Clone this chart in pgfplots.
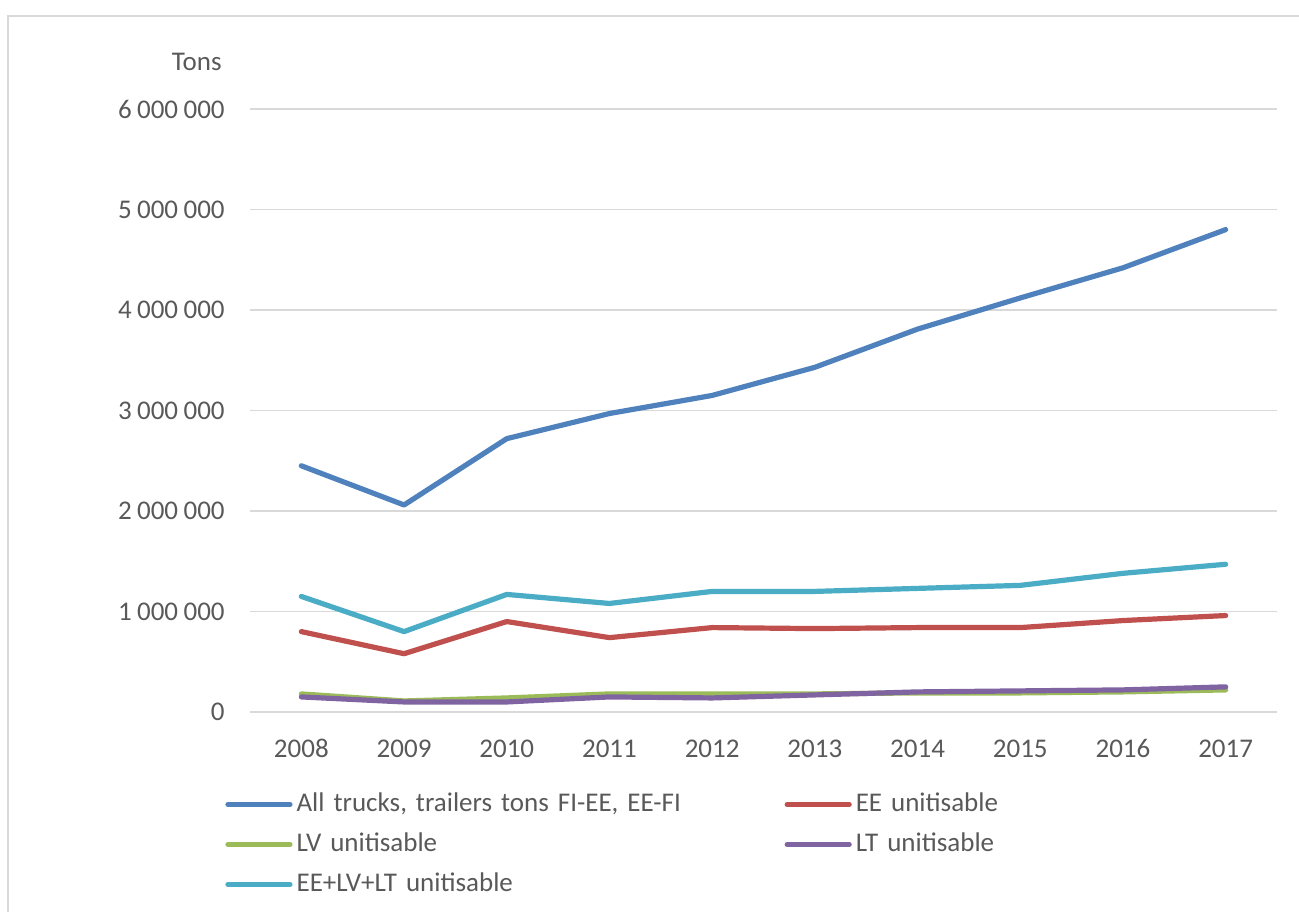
\documentclass[border=0pt]{standalone}
\usepackage{pgfplots}
\pgfplotsset{compat=1.18}
\usepackage{fontspec}
\setmainfont{Carlito}
\definecolor{txt}{HTML}{595959}
\definecolor{gridc}{HTML}{D9D9D9}
\definecolor{frame}{HTML}{D9D9D9}
\definecolor{cblue}{HTML}{4F81BD}
\definecolor{cred}{HTML}{C0504D}
\definecolor{cgreen}{HTML}{9BBB59}
\definecolor{cpurple}{HTML}{8064A2}
\definecolor{ccyan}{HTML}{4BACC6}
\begin{document}
\fontsize{13.5}{16}\selectfont
\begin{tikzpicture}
\useasboundingbox (0,0) rectangle (649.5pt,455.5pt);
\draw[color=frame, line width=1pt] (4pt,-20pt) -- (4pt,447.5pt) -- (680pt,447.5pt);
\node[anchor=east, inner sep=0pt, text=txt, font=\fontsize{13.5}{16}\selectfont] at (111pt,424.5pt) {Tons};
\begin{axis}[
  at={(125pt,99.5pt)}, anchor=south west,
  scale only axis, width=513.5pt, height=301.5pt,
  xmin=-0.5, xmax=9.5, ymin=0, ymax=6000000,
  axis line style={draw=none},
  major tick length=0pt,
  xtick={0,1,2,3,4,5,6,7,8,9},
  xticklabels={2008,2009,2010,2011,2012,2013,2014,2015,2016,2017},
  ytick={0,1000000,2000000,3000000,4000000,5000000,6000000},
  scaled y ticks=false,
  ymajorgrids=true,
  grid style={color=gridc, line width=0.75pt},
  yticklabel style={/pgf/number format/fixed, /pgf/number format/precision=0,
    /pgf/number format/1000 sep={\hspace{0.2em}}, /pgf/number format/assume math mode=true,
    anchor=east, inner sep=0pt, xshift=-12.5pt},
  xticklabel style={anchor=north, inner sep=0pt, yshift=-14pt, text height=8.6pt, text depth=0pt},
  ticklabel style={text=txt, font=\fontsize{13.5}{16}\selectfont},
  legend columns=2,
  legend cell align=left,
  legend style={at={(-0.0302,-0.1128)}, anchor=north west, draw=none, fill=none,
    column sep=2pt, row sep=0pt,
    nodes={inner sep=0pt, text width=242pt, minimum height=20pt, text=txt, font=\fontsize{13.5}{16}\selectfont}},
  legend image code/.code={\draw[#1, line width=2.6pt, line cap=round] (0pt,0pt) -- (31pt,0pt);},
  every axis plot/.append style={line width=2.6pt, line cap=round, line join=round, mark=none},
]
\addplot[cblue] coordinates {(0,2450000) (1,2060000) (2,2720000) (3,2970000) (4,3150000) (5,3430000) (6,3810000) (7,4120000) (8,4420000) (9,4800000)};
\addlegendentry{All trucks, trailers tons FI-EE, EE-FI}
\addplot[cred] coordinates {(0,800000) (1,580000) (2,900000) (3,740000) (4,840000) (5,830000) (6,840000) (7,840000) (8,910000) (9,960000)};
\addlegendentry{EE unitisable}
\addplot[cgreen] coordinates {(0,180000) (1,110000) (2,140000) (3,180000) (4,180000) (5,180000) (6,190000) (7,190000) (8,200000) (9,220000)};
\addlegendentry{LV unitisable}
\addplot[cpurple] coordinates {(0,150000) (1,100000) (2,100000) (3,150000) (4,140000) (5,170000) (6,200000) (7,210000) (8,220000) (9,250000)};
\addlegendentry{LT unitisable}
\addplot[ccyan] coordinates {(0,1150000) (1,800000) (2,1170000) (3,1080000) (4,1200000) (5,1200000) (6,1230000) (7,1260000) (8,1380000) (9,1470000)};
\addlegendentry{EE+LV+LT unitisable}
\end{axis}
\end{tikzpicture}
\end{document}
